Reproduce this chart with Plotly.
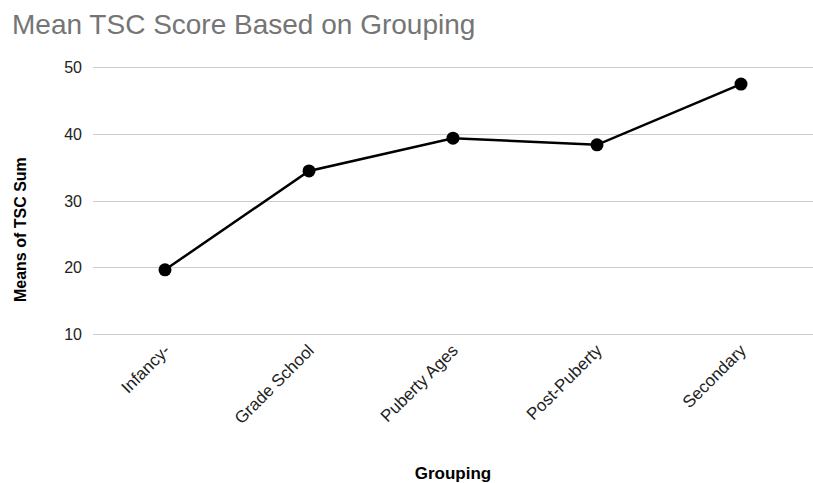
import plotly.graph_objects as go

categories = ["Infancy-", "Grade School", "Puberty Ages", "Post-Puberty", "Secondary"]
means = [19.7, 34.5, 39.4, 38.4, 47.5]
y_ticks = [10, 20, 30, 40, 50]

fig = go.Figure()
fig.add_trace(go.Scatter(
    x=categories, y=means, mode="lines+markers",
    line=dict(color="#000000", width=2.5),
    marker=dict(color="#000000", size=13),
    showlegend=False,
))

fig.update_layout(
    width=813, height=483,
    margin=dict(l=93, r=0, t=66, b=147),
    paper_bgcolor="white", plot_bgcolor="white",
    font=dict(family="Liberation Sans, Arial, sans-serif", size=16, color="#222222"),
    title=dict(text="Mean TSC Score Based on Grouping", x=0.0148, xanchor="left",
               y=0.97, yanchor="top",
               font=dict(size=28, color="#757575")),
)
fig.add_annotation(
    text="<b>Means of TSC Sum</b>", textangle=-90,
    xref="paper", yref="paper", x=-0.1014, y=0.396,
    xanchor="center", yanchor="middle", showarrow=False,
    font=dict(size=16, color="#000000"),
)
fig.update_xaxes(
    type="category", range=[-0.5, 4.5], tickangle=-45,
    showgrid=False, showline=False, ticks="",
    tickfont=dict(size=17, color="#222222"),
    title=dict(text="<b>Grouping</b>", font=dict(size=17, color="#000000"), standoff=40),
)
fig.update_yaxes(
    range=[9.8, 50.2], tickvals=y_ticks, showgrid=True, gridcolor="#cccccc", gridwidth=1,
    zeroline=False, showline=False, ticks="", ticklabelstandoff=10,
    tickfont=dict(size=16, color="#222222"),
)

fig.write_html("out.html")
